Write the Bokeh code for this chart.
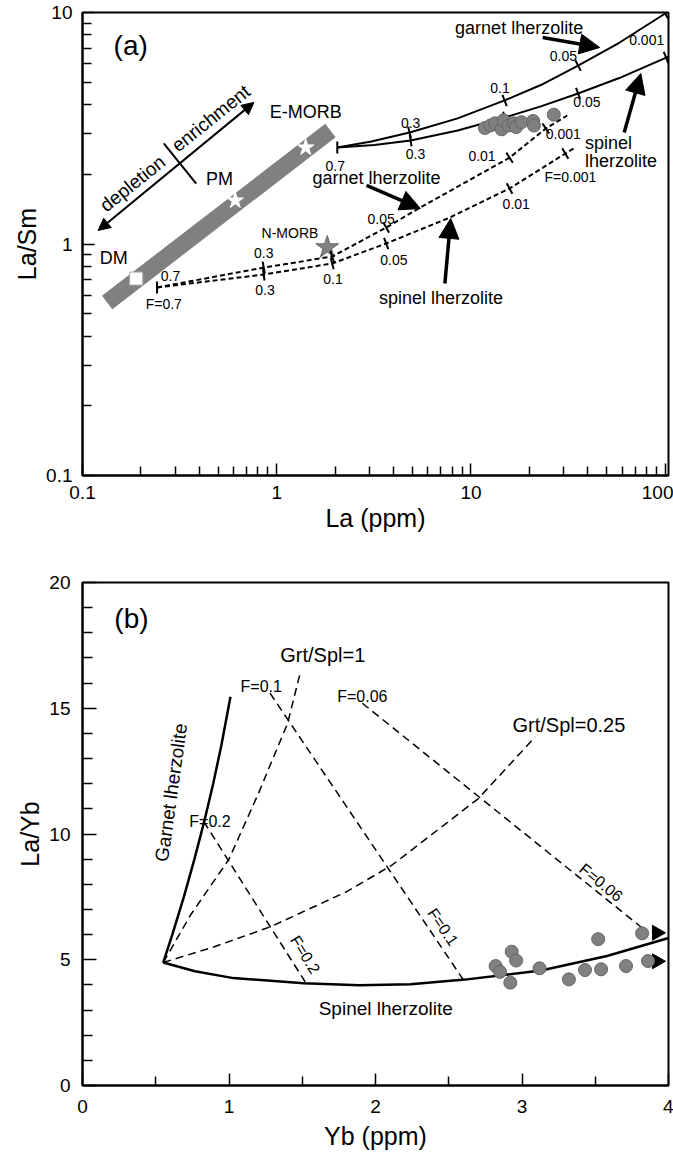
import math
from bokeh.plotting import figure
from bokeh.layouts import column
from bokeh.models import Arrow, NormalHead, FixedTicker, CustomJSTickFormatter, Range1d
from bokeh.core.properties import value
from bokeh.embed import file_html
from bokeh.resources import INLINE

FONT = "Liberation Sans"
GRAY = "#808080"

# ======================= Panel (a) data: La vs La/Sm =======================
band_la = [0.134, 1.89]            # mantle array band DM -> E-MORB
band_lasm = [0.559, 3.09]
dm_la, dm_lasm = [0.189], [0.709]
star_la = [0.612, 1.41]            # PM, E-MORB
star_lasm = [1.54, 2.61]
nmorb_la, nmorb_lasm = [1.82], [0.966]

# fractional melting (solid) curves
grt_solid_la = [2.05, 3.07, 4.83, 8.54, 14.9, 22.9, 35.6, 58.0, 100, 106]
grt_solid_lasm = [2.61, 2.77, 3.03, 3.49, 4.17, 4.86, 5.90, 7.40, 9.9, 10.3]
spl_solid_la = [2.05, 3.18, 4.89, 8.54, 14.9, 22.9, 35.6, 58.0, 104]
spl_solid_lasm = [2.61, 2.68, 2.80, 3.09, 3.52, 3.93, 4.47, 5.21, 6.45]
solid_tick_la = [4.83, 14.9, 35.6, 100, 4.89, 14.9, 35.6, 101]
solid_tick_lasm = [3.03, 4.17, 5.90, 9.9, 2.80, 3.52, 4.47, 6.39]
solid_tick_deg = [104, 111, 117, 120, 99, 104, 110, 112]

# batch melting (dashed) curves
grt_dash_la = [0.242, 0.857, 1.93, 3.66, 5.37, 15.8, 24.3, 31.3]
grt_dash_lasm = [0.649, 0.791, 0.883, 1.178, 1.423, 2.36, 3.155, 3.59]
spl_dash_la = [0.242, 0.857, 1.93, 3.66, 7.78, 15.8, 30.6, 34.4]
spl_dash_lasm = [0.649, 0.738, 0.824, 1.005, 1.301, 1.737, 2.46, 2.61]
dash_tick_la = [0.857, 1.93, 3.66, 15.8, 24.3, 0.857, 1.93, 3.66, 15.8, 30.6]
dash_tick_lasm = [0.791, 0.883, 1.178, 2.36, 3.155, 0.738, 0.824, 1.005, 1.737, 2.46]
dash_tick_deg = [100, 108, 119, 123, 124, 98, 104, 111, 118, 121]
start_la = [2.05, 0.242]
start_lasm = [2.61, 0.649]

# samples
sample_la = [11.8, 12.6, 13.3, 14.4, 14.7, 15.6, 16.6, 17.1, 18.2, 20.9, 21.1, 26.7]
sample_lasm = [3.17, 3.25, 3.32, 3.13, 3.42, 3.25, 3.32, 3.20, 3.36, 3.40, 3.25, 3.62]

# curve F labels
flab_text = ["0.7", "0.3", "0.3", "0.1", "0.05", "0.05", "0.001",
             "0.7", "F=0.7", "0.3", "0.3", "0.1", "0.05", "0.05", "0.01", "0.001", "F=0.001", "0.01"]
flab_la = [2.0, 4.89, 5.18, 14.1, 29.9, 39.5, 80.3,
           0.284, 0.262, 0.857, 0.87, 1.95, 3.45, 4.01, 11.4, 29.9, 32.5, 17.1]
flab_lasm = [2.18, 3.32, 2.44, 4.74, 6.46, 4.09, 7.64,
             0.731, 0.553, 0.910, 0.630, 0.709, 1.276, 0.857, 2.39, 3.0, 1.94, 1.496]

# big labels
big_text = ["DM", "PM", "E-MORB", "garnet lherzolite", "garnet lherzolite", "spinel lherzolite"]
big_la = [0.145, 0.508, 1.41, 17.7, 3.26, 7.01]
big_lasm = [0.874, 1.90, 3.70, 8.61, 1.92, 0.582]
nmorb_lab_la, nmorb_lab_lasm = [1.17], [1.12]

# big arrows (start -> end)
arr_x0 = [23.4, 61.5, 2.90, 7.34]
arr_y0 = [7.80, 3.03, 1.79, 0.675]
arr_x1 = [46.0, 74.9, 5.49, 7.87]
arr_y1 = [7.06, 5.45, 1.423, 1.29]

# depletion / enrichment arrow
de_x = [0.1204, 0.763]
de_y = [1.144, 4.09]
de_cross_x = [0.262, 0.385]
de_cross_y = [2.72, 1.825]

# ======================= Panel (b) data: Yb vs La/Yb =======================
grt_b_yb = [0.551, 0.613, 0.692, 0.764, 0.831, 0.892, 0.947, 1.01]
grt_b_layb = [4.89, 6.0, 7.5, 9.0, 10.5, 12.0, 13.5, 15.46]
spl_b_yb = [0.551, 0.768, 1.03, 1.51, 1.89, 2.24, 2.61, 3.13, 3.58, 4.02]
spl_b_layb = [4.89, 4.54, 4.27, 4.07, 3.99, 4.03, 4.21, 4.57, 5.15, 5.90]
gs1_yb = [0.551, 0.74, 1.0, 1.2, 1.4, 1.49]
gs1_layb = [4.89, 6.8, 9.0, 11.6, 14.4, 16.5]
gs025_yb = [0.551, 0.896, 1.283, 1.8, 2.11, 2.70, 3.09]
gs025_layb = [4.89, 5.51, 6.31, 7.7, 8.75, 11.4, 13.86]
f02_yb, f02_layb = [0.828, 1.52], [10.49, 4.12]
f01_yb, f01_layb = [1.28, 2.60], [15.6, 4.2]
f006_yb, f006_layb = [1.91, 3.86], [15.2, 6.08]
tri_yb, tri_layb = [3.92, 3.92], [6.07, 4.94]

samp_yb = [2.82, 2.85, 2.93, 2.96, 2.92, 3.12, 3.32, 3.43, 3.54, 3.52, 3.71, 3.82, 3.86]
samp_layb = [4.75, 4.52, 5.32, 4.97, 4.09, 4.66, 4.22, 4.59, 4.62, 5.82, 4.75, 6.05, 4.95]

b_lab_text = ["F=0.2", "F=0.1", "F=0.06"]
b_lab_yb = [0.87, 1.22, 1.91]
b_lab_layb = [10.5, 15.86, 15.45]
b_rot_text = ["F=0.2", "F=0.1", "F=0.06"]
b_rot_yb = [1.52, 2.46, 3.54]
b_rot_layb = [5.2, 6.3, 8.07]
b_rot_deg = [-58, -56, -39]


def style(p):
    p.grid.visible = False
    p.outline_line_color = "black"
    p.outline_line_width = 2
    p.outline_line_alpha = 1
    p.background_fill_color = "white"
    p.border_fill_color = "white"
    for ax in p.axis:
        ax.axis_line_width = 2
        ax.major_tick_in = 12
        ax.major_tick_out = 0
        ax.minor_tick_in = 9
        ax.minor_tick_out = 0
        ax.major_tick_line_width = 1.5
        ax.minor_tick_line_width = 1.5
        ax.major_label_text_font = FONT
        ax.major_label_text_font_size = "19px"
        ax.major_label_text_color = "black"
        ax.major_label_standoff = 10
        ax.axis_label_text_font = FONT
        ax.axis_label_text_font_size = "25px"
        ax.axis_label_text_font_style = "normal"
        ax.axis_label_text_color = "black"
        ax.axis_label_standoff = 2


def txt(p, x, y, t, size, align="center", angle=0.0, baseline="middle"):
    p.text(x=x, y=y, text=t, text_font=value(FONT), text_font_size=size,
           text_align=align, text_baseline=baseline, angle=angle, text_color="black")


# ---------------------------- Panel (a) ----------------------------
pa = figure(width=673, height=545, x_axis_type="log", y_axis_type="log",
            x_range=Range1d(0.1, 104), y_range=Range1d(0.1, 10),
            output_backend="svg", toolbar_location=None,
            min_border_left=72, min_border_right=5, min_border_top=12, min_border_bottom=70)
style(pa)
pa.xaxis.axis_label = "La (ppm)"
pa.yaxis.axis_label = "La/Sm"
pa.xaxis.ticker = FixedTicker(ticks=[0.1, 1, 10, 100],
                              minor_ticks=[m * d for d in (0.1, 1, 10) for m in range(2, 10)])
pa.yaxis.ticker = FixedTicker(ticks=[0.1, 1, 10],
                              minor_ticks=[m * d for d in (0.1, 1) for m in range(2, 10)])
pa.xaxis.formatter = CustomJSTickFormatter(code="return tick.toString()")
pa.yaxis.formatter = CustomJSTickFormatter(code="return tick.toString()")

pa.line(band_la, band_lasm, line_width=17, line_color=GRAY, line_cap="butt")
pa.scatter(dm_la, dm_lasm, marker="square", size=13, fill_color="white", line_color="#aaaaaa")
pa.scatter(star_la, star_lasm, marker="star", size=17, fill_color="white", line_color="white")
pa.scatter(nmorb_la, nmorb_lasm, marker="star", size=24, fill_color=GRAY, line_color="#6a6a6a")

pa.line(grt_solid_la, grt_solid_lasm, line_width=2, line_color="black")
pa.line(spl_solid_la, spl_solid_lasm, line_width=2, line_color="black")
pa.line(grt_dash_la, grt_dash_lasm, line_width=2, line_color="black", line_dash="5 3")
pa.line(spl_dash_la, spl_dash_lasm, line_width=2, line_color="black", line_dash="5 3")
pa.scatter(solid_tick_la, solid_tick_lasm, marker="dash", size=12, line_width=2, line_color="black",
           angle=[math.radians(a) for a in solid_tick_deg])
pa.scatter(dash_tick_la, dash_tick_lasm, marker="dash", size=12, line_width=2, line_color="black",
           angle=[math.radians(a) for a in dash_tick_deg])
pa.scatter(start_la, start_lasm, marker="dash", size=12, line_width=2, line_color="black",
           angle=math.pi / 2)

pa.scatter(sample_la, sample_lasm, marker="circle", size=13, fill_color=GRAY, line_color="#666666")

for x0, y0, x1, y1 in zip(arr_x0, arr_y0, arr_x1, arr_y1):
    pa.add_layout(Arrow(end=NormalHead(size=20, fill_color="black", line_color="black"),
                        x_start=x0, y_start=y0, x_end=x1, y_end=y1,
                        line_width=3.5, line_color="black"))
pa.add_layout(Arrow(start=NormalHead(size=12, fill_color="black", line_color="black"),
                    end=NormalHead(size=12, fill_color="black", line_color="black"),
                    x_start=de_x[0], y_start=de_y[0], x_end=de_x[1], y_end=de_y[1],
                    line_width=2, line_color="black"))
pa.line(de_cross_x, de_cross_y, line_width=2, line_color="black")

ang = math.radians(38.8)
txt(pa, [0.181], [1.825], ["depletion"], "19px", angle=ang)
txt(pa, [0.458], [3.49], ["enrichment"], "19px", angle=ang)
txt(pa, [0.177], [7.2], ["(a)"], "28px")
txt(pa, big_la, big_lasm, big_text, "18px")
txt(pa, nmorb_lab_la, nmorb_lab_lasm, ["N-MORB"], "14px")
txt(pa, [38.6, 38.6], [2.74, 2.29], ["spinel", "lherzolite"], "18px", align="left")
txt(pa, flab_la, flab_lasm, flab_text, "14px")

# ---------------------------- Panel (b) ----------------------------
pb = figure(width=673, height=616, x_range=Range1d(0, 4), y_range=Range1d(0, 20),
            output_backend="svg", toolbar_location=None,
            min_border_left=82, min_border_right=5, min_border_top=37, min_border_bottom=76)
style(pb)
pb.xaxis.axis_label = "Yb (ppm)"
pb.yaxis.axis_label = "La/Yb"
pb.xaxis.ticker = FixedTicker(ticks=[0, 1, 2, 3, 4], minor_ticks=[0.5, 1.5, 2.5, 3.5])
pb.yaxis.ticker = FixedTicker(ticks=[0, 5, 10, 15, 20],
                              minor_ticks=[v for v in range(1, 20) if v % 5])
pb.xaxis.major_label_standoff = 14
pb.xaxis.axis_label_standoff = 6
pb.yaxis.major_label_standoff = 12
pb.yaxis.major_tick_in = 14
pb.yaxis.minor_tick_in = 10

pb.line(grt_b_yb, grt_b_layb, line_width=2.5, line_color="black")
pb.line(spl_b_yb, spl_b_layb, line_width=2.5, line_color="black")
for xs, ys in ((gs1_yb, gs1_layb), (gs025_yb, gs025_layb), (f02_yb, f02_layb),
               (f01_yb, f01_layb), (f006_yb, f006_layb)):
    pb.line(xs, ys, line_width=1.5, line_color="black", line_dash="8 5")
pb.scatter(tri_yb, tri_layb, marker="triangle", size=15, angle=-math.pi / 2,
           fill_color="black", line_color="black")
pb.scatter(samp_yb, samp_layb, marker="circle", size=13, fill_color=GRAY, line_color="#666666")

txt(pb, [0.334], [18.57], ["(b)"], "28px")
txt(pb, [1.64, 3.32], [17.13, 14.34], ["Grt/Spl=1", "Grt/Spl=0.25"], "20px")
txt(pb, b_lab_yb, b_lab_layb, b_lab_text, "16px")
for x, y, t, a in zip(b_rot_yb, b_rot_layb, b_rot_text, b_rot_deg):
    txt(pb, [x], [y], [t], "16px", angle=math.radians(a))
txt(pb, [0.605], [11.65], ["Garnet lherzolite"], "19px", angle=math.radians(82))
txt(pb, [2.07], [3.06], ["Spinel lherzolite"], "19px")

layout = column(pa, pb)
open("out.html", "w").write(file_html(layout, INLINE))
